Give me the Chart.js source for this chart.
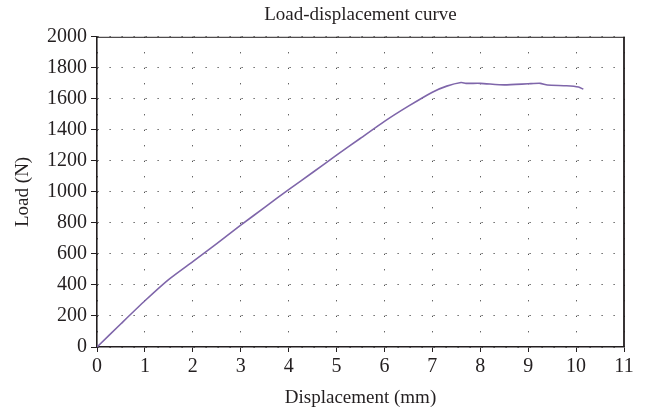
<!DOCTYPE html>
<html>
<head>
<meta charset="utf-8">
<script src="https://cdn.jsdelivr.net/npm/chart.js@4"></script>
<style>
  body { margin: 0; background: #fff; }
</style>
</head>
<body>
<canvas id="grafico" width="647" height="413"></canvas>
<script>
// valores
const displacement = [0, 0.5, 1, 1.5, 2, 2.5, 3, 3.5, 4, 4.5, 5, 5.5, 6, 6.5, 7, 7.3, 7.6, 7.7, 8, 8.5, 9, 9.25, 9.4, 9.8, 10.05, 10.15];
const load = [0, 150, 298, 436, 551, 667, 786, 900, 1015, 1125, 1237, 1346, 1455, 1553, 1643, 1682, 1705, 1700, 1700, 1690, 1697, 1700, 1689, 1684, 1676, 1662];
const xTicks = [0, 1, 2, 3, 4, 5, 6, 7, 8, 9, 10, 11];
const yTicks = [0, 200, 400, 600, 800, 1000, 1200, 1400, 1600, 1800, 2000];

let pontos = [];
for (let i = 0; i < displacement.length; i++) {
  pontos.push({ x: displacement[i], y: load[i] });
}

Chart.defaults.font.family = "'Liberation Serif', 'Times New Roman', serif";
Chart.defaults.font.size = 19;
Chart.defaults.color = "#231f20";

// moldura de cima e da direita
const moldura = {
  id: "moldura",
  afterDatasetsDraw(chart) {
    const a = chart.chartArea;
    const ctx = chart.ctx;
    ctx.save();
    ctx.strokeStyle = "#231f20";
    ctx.lineWidth = 1;
    ctx.beginPath();
    ctx.moveTo(a.left, a.top + 0.5);
    ctx.lineTo(a.right, a.top + 0.5);
    ctx.stroke();
    ctx.lineWidth = 1.8;
    ctx.beginPath();
    ctx.moveTo(a.right, a.top);
    ctx.lineTo(a.right, a.bottom);
    ctx.stroke();
    ctx.restore();
  },
};

new Chart(document.getElementById("grafico"), {
  type: "line",
  data: {
    datasets: [
      {
        data: pontos,
        borderColor: "#7f66aa",
        borderWidth: 1.6,
        pointRadius: 0,
        tension: 0.2,
        fill: false,
      },
    ],
  },
  options: {
    responsive: false,
    animation: false,
    layout: { padding: { left: 0, right: 23, top: 0, bottom: 0 } },
    plugins: {
      legend: { display: false },
      tooltip: { enabled: false },
      title: {
        display: true,
        text: "Load-displacement curve",
        fullSize: false,
        font: { size: 19, weight: "normal" },
        padding: { top: 4, bottom: 10 },
      },
    },
    scales: {
      x: {
        type: "linear",
        min: 0,
        max: 11,
        afterBuildTicks(scale) {
          scale.ticks = xTicks.map((v) => ({ value: v }));
        },
        afterFit(scale) {
          scale.height = 66;
        },
        ticks: { padding: 3, maxRotation: 0, font: { size: 20 }, callback: (v) => String(v) },
        grid: {
          color: "#222",
          lineWidth: 1,
          tickColor: "#231f20",
          tickLength: 5,
        },
        border: { color: "#231f20", width: 1.6, dash: [1, 14.5] },
        title: {
          display: true,
          text: "Displacement (mm)",
          font: { size: 19 },
          padding: { top: 0, bottom: 4 },
        },
      },
      y: {
        min: 0,
        max: 2000,
        afterBuildTicks(scale) {
          scale.ticks = yTicks.map((v) => ({ value: v }));
        },
        afterFit(scale) {
          scale.width = 97;
        },
        ticks: { padding: 4, font: { size: 20 }, callback: (v) => String(v) },
        grid: {
          color: "#222",
          lineWidth: 1,
          tickColor: "#231f20",
          tickLength: 6,
        },
        border: { color: "#231f20", width: 1.6, dash: [1, 11] },
        title: {
          display: true,
          text: "Load (N)",
          font: { size: 19 },
          padding: { top: 12, bottom: 0 },
        },
      },
    },
  },
  plugins: [moldura],
});
</script>
</body>
</html>
